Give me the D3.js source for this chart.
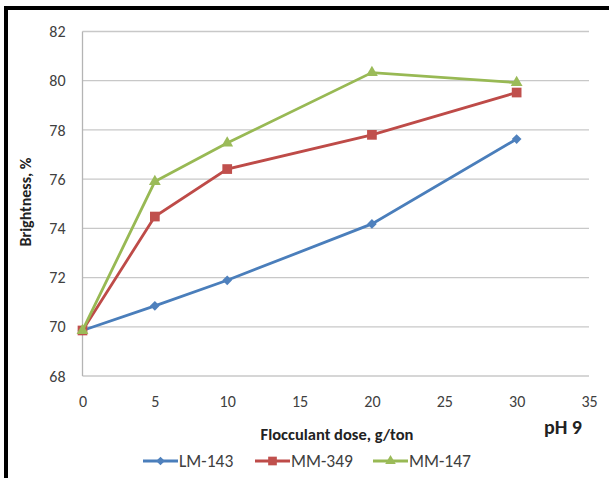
<!DOCTYPE html>
<html>
<head>
<meta charset="utf-8">
<script src="https://cdn.jsdelivr.net/npm/d3@7"></script>
<style>
  body { margin: 0; background: #fff; }
  svg { display: block; font-family: Carlito, Lato, "Open Sans", sans-serif; }
</style>
</head>
<body>
<svg width="609" height="478"></svg>
<script>
const doses = [0, 5, 10, 20, 30];
const lm143 = [69.85, 70.85, 71.89, 74.18, 77.63];
const mm349 = [69.85, 74.48, 76.41, 77.80, 79.52];
const mm147 = [69.85, 75.90, 77.47, 80.33, 79.92];
const xTicks = [0, 5, 10, 15, 20, 25, 30, 35];
const yTicks = [68, 70, 72, 74, 76, 78, 80, 82];

const series = [
  {name: "LM-143", values: lm143, line: "#4a7ebb", fill: "#4f81bd", symbol: d3.symbolDiamond2, size: 60},
  {name: "MM-349", values: mm349, line: "#be4b48", fill: "#c0504d", symbol: d3.symbolSquare2, size: 120},
  {name: "MM-147", values: mm147, line: "#98b954", fill: "#9bbb59", symbol: d3.symbolTriangle2, size: 100}
];

const svg = d3.select("svg");

// frame edges from the screenshot
svg.append("rect").attr("x", 4).attr("y", 6).attr("width", 4).attr("height", 472).attr("fill", "#000");
svg.append("rect").attr("x", 4).attr("y", 6).attr("width", 605).attr("height", 4).attr("fill", "#000");

const x = d3.scaleLinear().domain([0, 35]).range([82.5, 589]);
const y = d3.scaleLinear().domain([68, 82]).range([376, 31.5]);

// gridlines
svg.append("g")
  .selectAll("line")
  .data(yTicks)
  .join("line")
  .attr("x1", x(0)).attr("x2", x(35))
  .attr("y1", d => y(d)).attr("y2", d => y(d))
  .attr("stroke", "#c8c8c8")
  .attr("stroke-width", 1.3);

// vertical axis line
svg.append("line")
  .attr("x1", x(0)).attr("x2", x(0))
  .attr("y1", y(82)).attr("y2", y(68))
  .attr("stroke", "#b4b4b4")
  .attr("stroke-width", 1.3);

const yAxis = svg.append("g")
  .attr("transform", `translate(${x(0)},0)`)
  .call(d3.axisLeft(y).tickValues(yTicks).tickSize(0).tickPadding(17));
yAxis.select(".domain").remove();
yAxis.selectAll("text").attr("font-size", 16).attr("fill", "#404040").attr("font-family", "Carlito, Lato, sans-serif");

const xAxis = svg.append("g")
  .attr("transform", `translate(0,${y(68)})`)
  .call(d3.axisBottom(x).tickValues(xTicks).tickSize(0).tickPadding(20));
xAxis.select(".domain").remove();
xAxis.selectAll("text").attr("font-size", 16).attr("fill", "#404040").attr("font-family", "Carlito, Lato, sans-serif");

// titles
svg.append("text")
  .attr("transform", "translate(31,202) rotate(-90)")
  .attr("text-anchor", "middle")
  .attr("font-size", 16)
  .attr("font-weight", "bold")
  .attr("fill", "#222")
  .text("Brightness, %");

svg.append("text")
  .attr("x", 337).attr("y", 440)
  .attr("text-anchor", "middle")
  .attr("font-size", 16.5)
  .attr("font-weight", "bold")
  .attr("fill", "#222")
  .text("Flocculant dose, g/ton");

svg.append("text")
  .attr("x", 563).attr("y", 434)
  .attr("text-anchor", "middle")
  .attr("font-size", 20)
  .attr("font-weight", "bold")
  .attr("fill", "#222")
  .text("pH 9");

// lines and markers
const line = d3.line()
  .x((d, i) => x(doses[i]))
  .y(d => y(d));

series.forEach(s => {
  svg.append("path")
    .datum(s.values)
    .attr("d", line)
    .attr("fill", "none")
    .attr("stroke", s.line)
    .attr("stroke-width", 2.8);

  svg.append("g")
    .selectAll("path")
    .data(s.values)
    .join("path")
    .attr("transform", (d, i) => `translate(${x(doses[i])},${y(d)})`)
    .attr("d", d3.symbol(s.symbol, s.size))
    .attr("fill", s.fill);
});

// Legend
const legendX = [143, 255, 373];
const legend = svg.append("g")
  .selectAll("g")
  .data(series)
  .join("g")
  .attr("transform", (d, i) => `translate(${legendX[i]},461)`);

legend.append("line")
  .attr("x1", 0).attr("x2", 35)
  .attr("stroke", d => d.line)
  .attr("stroke-width", 2.8);

legend.append("path")
  .attr("transform", "translate(17.5,0)")
  .attr("d", d => d3.symbol(d.symbol, d.size * 0.8)())
  .attr("fill", d => d.fill);

legend.append("text")
  .attr("x", 36)
  .attr("y", 6)
  .attr("font-size", 17.5)
  .attr("fill", "#404040")
  .text(d => d.name);
</script>
</body>
</html>
